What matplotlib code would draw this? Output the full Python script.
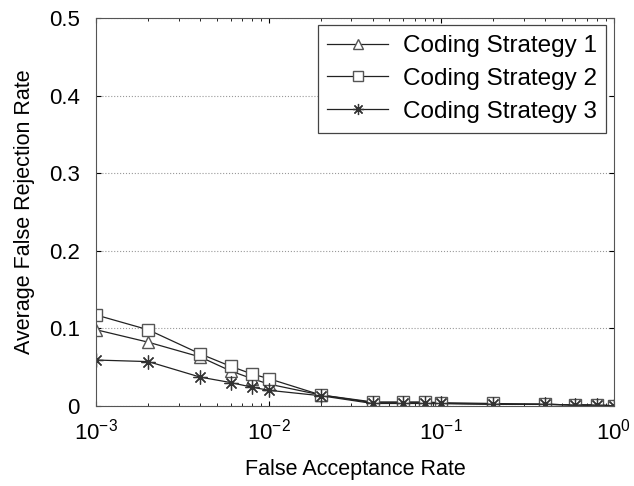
import matplotlib
matplotlib.use("Agg")
import matplotlib.pyplot as plt

plt.rcParams['font.family'] = ['Liberation Sans', 'DejaVu Sans']

# Données
far = [0.001, 0.002, 0.004, 0.006, 0.008, 0.01, 0.02, 0.04, 0.06, 0.08,
       0.1, 0.2, 0.4, 0.6, 0.8, 1.0]
strategie1 = [0.098, 0.082, 0.063, 0.045, 0.035, 0.028, 0.014, 0.004, 0.004,
              0.004, 0.003, 0.002, 0.002, 0.001, 0.001, 0.0]
strategie2 = [0.117, 0.098, 0.067, 0.051, 0.041, 0.035, 0.014, 0.005, 0.005,
              0.005, 0.004, 0.003, 0.002, 0.001, 0.001, 0.0]
strategie3 = [0.059, 0.057, 0.037, 0.030, 0.024, 0.020, 0.013, 0.003, 0.003,
              0.003, 0.003, 0.002, 0.002, 0.001, 0.001, 0.0]
noms = ["Coding Strategy 1", "Coding Strategy 2", "Coding Strategy 3"]

fig, ax = plt.subplots(figsize=(6.34, 4.86), dpi=100)
fig.subplots_adjust(left=0.152, right=0.968, top=0.963, bottom=0.165)

ax.plot(far, strategie1, color='#222222', lw=0.9, marker='^', ms=9,
        mfc='white', mec='#555555', label=noms[0])
ax.plot(far, strategie2, color='#222222', lw=0.9, marker='s', ms=9,
        mfc='white', mec='#555555', label=noms[1])
ax.plot(far, strategie3, color='#222222', lw=0.9, marker=(8, 2, 0), ms=10,
        mec='#333333', mew=0.9, label=noms[2])

ax.set_xscale('log')
ax.set_xlim(1e-3, 1)
ax.set_ylim(0, 0.5)
ax.set_yticks([0, 0.1, 0.2, 0.3, 0.4, 0.5])
ax.set_yticklabels(['0', '0.1', '0.2', '0.3', '0.4', '0.5'])
ax.grid(True, axis='y', linestyle=':', color='#999999', lw=0.8)
ax.tick_params(labelsize=16, direction='in', which='both', top=True, right=True)
ax.tick_params(axis='y', pad=12)
ax.tick_params(axis='x', pad=9)
for s in ax.spines.values():
    s.set_color('#555555')

ax.set_xlabel("False Acceptance Rate", fontsize=15.5, labelpad=11)
ax.set_ylabel("Average False Rejection Rate", fontsize=15.5, labelpad=10)

leg = ax.legend(loc='upper right', fontsize=17.5, fancybox=False,
                edgecolor='#444444', framealpha=1, handlelength=2.5,
                borderaxespad=0.3, labelspacing=0.45, markerscale=0.8,
                handletextpad=0.6, borderpad=0.4)
leg.get_frame().set_linewidth(0.9)

plt.savefig("out.png")
